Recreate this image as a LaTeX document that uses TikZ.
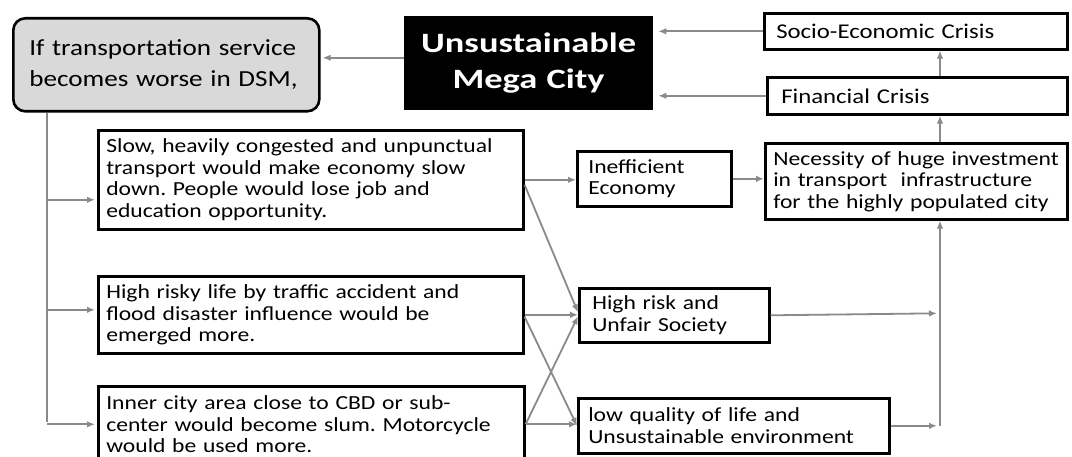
\documentclass[tikz,border=0pt]{standalone}
\usepackage{fontspec}
\setmainfont{Carlito}[FakeStretch=1.18]
\newfontfamily\titlefont{Carlito}[FakeStretch=1.3]
\frenchspacing
\usetikzlibrary{arrows.meta,calc}
\definecolor{linkgray}{HTML}{8A8A8A}
\definecolor{startfill}{HTML}{D9D9D9}
\tikzset{
  box/.style={draw=black, line width=2.6pt, inner ysep=2pt, align=left,
    anchor=north west, font=\fontsize{20}{21.5}\selectfont},
  link/.style={draw=linkgray, line width=1.8pt, -{Latex[length=8pt,width=6.5pt]}},
  plain/.style={draw=linkgray, line width=1.8pt},
}
\begin{document}
\begin{tikzpicture}[x=1pt,y=-1pt]
\clip (0,0) rectangle (1072,457);
\fill[white] (0,0) rectangle (1072,457);

% top row
\node[box, rounded corners=12pt, fill=startfill, inner xsep=16pt, text width=274pt,
  minimum height=93pt, font=\fontsize{23}{31}\selectfont] (start) at (12,17)
  {If transportation service\\becomes worse in DSM,};
\node[box, fill=black, text=white, align=center, text width=240pt, minimum height=91pt,
  font=\titlefont\fontsize{28}{36}\selectfont\bfseries] (mega) at (404,16)
  {Unsustainable\\Mega City};
\node[box, inner xsep=12pt, text width=279pt, minimum height=36pt,
  font=\fontsize{21}{21}\selectfont] (socio) at (763,12) {Socio-Economic Crisis};
\node[box, inner xsep=14pt, text width=272pt, minimum height=37pt,
  font=\fontsize{21}{21}\selectfont] (fin) at (766,76) {Financial Crisis};

% causes
\node[box, inner xsep=8pt, text width=409pt, minimum height=99pt] (causeA) at (97,129)
  {Slow, heavily congested and unpunctual\\transport would make economy slow\\down. People would lose job and\\education opportunity.};
\node[box, inner xsep=8pt, text width=409pt, minimum height=77pt] (causeB) at (97,275)
  {High risky life by traffic accident and\\flood disaster influence would be\\emerged more.};
\node[box, inner xsep=8pt, text width=410pt, minimum height=76pt] (causeC) at (97,385)
  {Inner city area close to CBD or sub-\\center would become slum. Motorcycle\\would be used more.};

% effects
\node[box, inner xsep=11pt, text width=132pt, minimum height=55pt] (ineff) at (576,150)
  {Inefficient\\Economy};
\node[box, inner xsep=8pt, text width=286pt, minimum height=76pt] (nec) at (764,142)
  {Necessity of huge investment\\in transport\ \ infrastructure\\for the highly populated city};
\node[box, inner xsep=13pt, text width=164pt, minimum height=54pt] (risk) at (578,287)
  {High risk and\\Unfair Society};
\node[box, inner xsep=10pt, text width=291pt, minimum height=55pt] (life) at (577,397)
  {low quality of life and\\Unsustainable environment};

% helper columns for the trunk and the collector line
\coordinate (trunk) at (47,0);
\coordinate (bus) at (940,0);

% top row links
\draw[link, shorten >=2pt] ([yshift=5pt]mega.west) -- ([yshift=5pt]mega.west -| start.east);
\draw[link, shorten >=5pt] (socio.west) -- (socio.west -| mega.east);
\draw[link, shorten >=5pt] (fin.west) -- (fin.west -| mega.east);
\draw[link] (fin.north -| bus) -- (socio.south -| bus);
\draw[link] (nec.north -| bus) -- (fin.south -| bus);

% trunk and branches
\draw[plain] (start.south -| trunk) -- ([yshift=2pt]causeC.west -| trunk);
\draw[link, shorten >=2pt] ([yshift=-20pt]causeA.west -| trunk) -- ([yshift=-20pt]causeA.west);
\draw[link, shorten >=2pt] ([yshift=5pt]causeB.west -| trunk) -- ([yshift=5pt]causeB.west);
\draw[link, shorten >=2pt] (causeC.west -| trunk) -- (causeC.west);

% causes to effects
\draw[link] (causeA.east) -- (causeA.east -| ineff.west);
\draw[link] ([yshift=-5pt]causeA.east) -- ([yshift=3pt]risk.west);
\draw[link] (causeB.east) -- (causeB.east -| risk.west);
\draw[link] ([yshift=-2pt]causeB.east) -- (life.west);
\draw[link] (causeC.east) -- ([yshift=-1pt]risk.west);
\draw[link] (causeC.east) -- (causeC.east -| life.west);
\draw[link] (ineff.east) -- (ineff.east -| nec.west);

% effects to the collector line
\draw[link, shorten >=3pt] (risk.east) -- ([yshift=2pt]risk.east -| bus);
\draw[link, shorten >=3pt] (life.east) -- (life.east -| bus);
\draw[link] (life.east -| bus) -- (nec.south -| bus);
\end{tikzpicture}
\end{document}
